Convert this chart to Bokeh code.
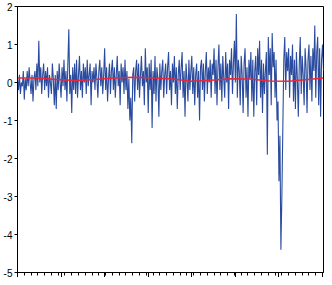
from bokeh.plotting import figure
from bokeh.models import Range1d, FixedTicker, CustomJSTickFormatter
from bokeh.embed import file_html
from bokeh.resources import INLINE

series = [
    0.1, -0.2, 0.2, -0.3, 0.0, -0.1, 0.3, -0.45, 0.1, -0.2,
    0.3, -0.1, 0.4, 0.0, -0.3, 0.2, -0.5, 0.1, 0.3, -0.2,
    0.5, -0.1, 1.1, 0.0, 0.4, -0.3, 0.2, 0.5, -0.2, 0.3,
    -0.1, 0.4, -0.4, 0.2, 0.0, -0.3, 0.5, 0.1, -0.6, 0.2,
    -0.7, 0.3, -0.2, 0.5, 0.0, -0.4, 0.4, -0.1, 0.6, -0.2,
    0.3, -0.5, 0.5, 1.4, -0.3, 0.2, -0.8, 0.4, -0.2, 0.5,
    -0.3, 0.6, -0.4, 0.2, 0.7, -0.2, 0.3, -0.4, 0.5, 0.0,
    0.4, -0.3, 0.6, -0.1, 0.2, 0.5, -0.6, 0.3, 0.0, 0.4,
    -0.2, 0.5, 0.1, -0.4, 0.3, 0.6, -0.1, 0.4, -0.3, 0.2,
    0.9, -0.2, 0.4, -0.5, 0.1, 0.5, -0.3, 0.3, 0.6, -0.2,
    0.4, -0.4, 0.2, 0.7, -0.1, 0.3, -0.6, 0.5, 0.0, 0.4,
    -0.3, 0.6, -0.2, 0.3, -0.7, 0.1, -1.0, -0.4, -1.6, 0.2,
    0.4, -0.5, 0.3, 0.6, -0.2, 0.5, -0.4, 0.2, 0.7, -0.1,
    0.3, -0.6, 0.9, 0.0, 0.4, -0.8, 0.5, -0.2, 0.6, -1.2,
    0.3, -0.3, 0.7, -0.5, 0.4, 0.1, -0.9, 0.5, -0.2, 0.3,
    0.6, -0.4, 0.2, 0.5, -0.3, 0.4, 0.8, -0.2, 0.3, -0.6,
    0.5, 0.0, 0.7, -0.3, 0.4, -0.7, 0.2, 0.6, -0.2, 0.4,
    0.8, -0.4, 0.3, -0.9, 0.5, 0.1, -0.5, 0.6, -0.2, 0.3,
    0.7, -0.3, 0.4, -0.6, 0.2, 0.5, -0.4, 0.3, -1.0, 0.4,
    0.6, -0.2, 0.5, -0.5, 0.3, 0.8, -0.3, 0.4, 0.0, 0.6,
    -0.4, 0.5, 0.2, 0.9, -0.3, 0.6, -0.6, 0.4, 1.0, -0.2,
    0.5, -0.5, 0.7, 0.1, -0.4, 0.8, 0.0, 0.5, -0.7, 0.6,
    0.2, 0.9, -0.3, 0.5, 1.1, 0.0, 1.8, -0.4, 0.6, 0.3,
    -0.6, 0.7, 0.2, -0.8, 0.5, 0.9, -0.4, 0.4, -0.9, 0.6,
    0.1, 0.8, -0.5, 0.6, -0.9, 0.3, 0.7, -0.6, 0.9, 0.2,
    1.1, -0.4, 0.6, -0.8, 0.5, -0.3, 0.3, 0.8, -1.9, 1.2,
    0.2, 0.9, -0.6, 1.3, 0.4, 0.8, -0.4, 0.6, -1.0, -0.5,
    -2.6, -1.4, -4.4, -3.0, -1.2, 0.6, 1.2, -0.2, 0.8, 0.3,
    0.9, -0.4, 0.7, 0.2, 1.0, -0.5, 0.6, -0.7, 0.8, 0.1,
    -0.9, 0.5, 1.2, -0.3, 0.7, 0.2, -0.6, 0.9, 0.4, -0.8,
    0.6, 1.0, -0.2, 0.7, -0.5, 0.9, 0.3, 1.5, -0.4, 0.8,
    1.2, -0.6, 0.9, -0.9, 0.6, 1.0, 0.3,
]

# Smooth fitted/mean line (red), at knot indices
trend_idx = [0, 20, 40, 60, 80, 100, 120, 140, 160, 180, 200, 220, 240, 260, 280, 300, 316]
trend_val = [0.12, 0.12, 0.08, 0.05, 0.08, 0.12, 0.14, 0.12, 0.09, 0.03, 0.06, 0.10, 0.09, 0.04, 0.03, 0.08, 0.12]

y_ticks = [-5, -4, -3, -2, -1, 0, 1, 2]

n = len(series)
xs = list(range(n))

p = figure(width=324, height=277, output_backend="svg", toolbar_location=None,
           x_range=Range1d(0, n - 1), y_range=Range1d(-5, 2),
           min_border_left=0, min_border_right=1, min_border_top=6, min_border_bottom=0)

p.line(xs, series, line_color="#2B4C9E", line_width=1.1)
p.line(trend_idx, trend_val, line_color="#E8283A", line_width=1.5)

p.xgrid.visible = False
p.ygrid.visible = False
p.outline_line_color = "black"
p.outline_line_width = 1
p.background_fill_color = "white"
p.border_fill_color = "white"

ya = p.yaxis[0]
ya.ticker = FixedTicker(ticks=y_ticks)
ya.formatter = CustomJSTickFormatter(code="return String(tick)")
ya.major_tick_out = 3
ya.major_tick_in = 0
ya.minor_tick_out = 0
ya.minor_tick_in = 0
ya.major_label_standoff = 2
ya.major_label_text_font = "Liberation Sans"
ya.major_label_text_font_size = "10px"
ya.major_label_text_color = "black"
ya.axis_line_color = "black"

xa = p.xaxis[0]
major = list(range(0, n, 45))
minor = [m for m in range(0, n, 7)]
xa.ticker = FixedTicker(ticks=major, minor_ticks=minor)
xa.formatter = CustomJSTickFormatter(code="return ''")
xa.major_tick_out = 5
xa.major_tick_in = 0
xa.minor_tick_out = 3
xa.minor_tick_in = 0
xa.major_label_standoff = 0
xa.axis_line_color = "black"

open("out.html", "w").write(file_html(p, INLINE))
